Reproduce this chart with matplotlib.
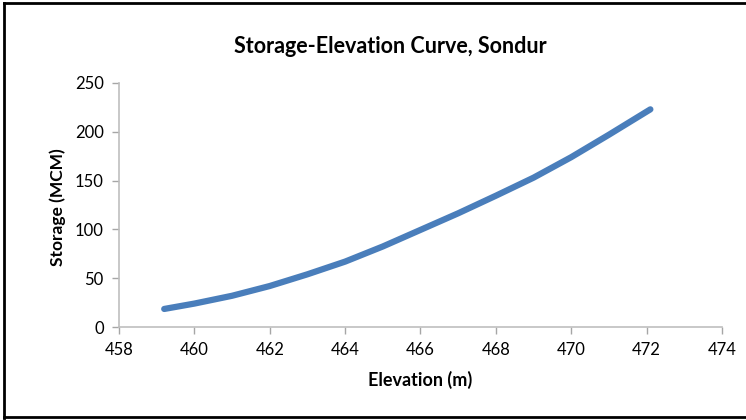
import matplotlib
matplotlib.use("Agg")
import matplotlib.pyplot as plt

# elevation (m) vs storage (MCM)
elevation = [459.2, 460, 461, 462, 463, 464, 465, 466, 467, 468, 469, 470, 471, 472.1]
storage = [18.5, 24, 32, 42, 54, 67, 82.5, 99.5, 116.5, 134.5, 153, 174, 197, 223]

xticks = [458, 460, 462, 464, 466, 468, 470, 472, 474]
yticks = [0, 50, 100, 150, 200, 250]

plt.rcParams['font.family'] = ['Lato', 'DejaVu Sans']

fig = plt.figure(figsize=(7.46, 4.20), dpi=100)
ax = fig.add_axes([0.1595, 0.2214, 0.8083, 0.581])

ax.plot(elevation, storage, color='#4A7EBB', lw=4.5, solid_capstyle='round',
        solid_joinstyle='round')

ax.set_xlim(458, 474)
ax.set_ylim(0, 250)
ax.set_xticks(xticks)
ax.set_yticks(yticks)
for s in ('top', 'right'):
    ax.spines[s].set_visible(False)
for s in ('left', 'bottom'):
    ax.spines[s].set_color('#BFBFBF')
    ax.spines[s].set_linewidth(1.2)
ax.tick_params(direction='out', length=5, width=1, color='#A6A6A6',
               labelsize=12, labelcolor='black', pad=6)

fig.text(0.523, 0.89, 'Storage-Elevation Curve, Sondur', ha='center', va='center',
         fontsize=15.5, fontweight='bold')
fig.text(0.563, 0.095, 'Elevation (m)', ha='center', va='center',
         fontsize=13, fontweight='bold')
fig.text(0.078, 0.507, 'Storage (MCM)', ha='center', va='center',
         fontsize=12.5, fontweight='bold', rotation=90)

# outer chart frame (left, top, bottom edges)
fig.add_artist(plt.Line2D([0.005, 0.005], [0.005, 0.993], transform=fig.transFigure,
                          color='black', lw=2))
fig.add_artist(plt.Line2D([0.005, 1.0], [0.993, 0.993], transform=fig.transFigure,
                          color='black', lw=2))
fig.add_artist(plt.Line2D([0.005, 1.0], [0.006, 0.006], transform=fig.transFigure,
                          color='black', lw=2))

fig.savefig('out.png', dpi=100)
